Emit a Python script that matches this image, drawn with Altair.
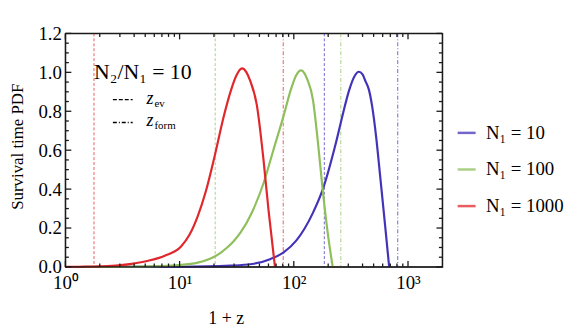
import math
import altair as alt
import pandas as pd

# ---- data ----
series_names = ["N₁ = 10", "N₁ = 100", "N₁ = 1000"]
series_colors = ["#4333b9", "#8fbf5d", "#e0282c"]

blue_x = [3.0, 10.0, 28.0, 43.0, 62.0, 81.5, 105.0, 147.0, 179.0, 233.0, 270.0, 304.0, 340.0, 371.0, 400.0, 424.0, 455.0, 484.0, 528.0, 571.0, 631.0, 684.0]
blue_y = [0.0, 0.001, 0.007, 0.015, 0.04, 0.075, 0.135, 0.278, 0.397, 0.634, 0.79, 0.905, 0.98, 1.003, 0.99, 0.955, 0.91, 0.83, 0.66, 0.464, 0.21, 0.0]

green_x = [1.5, 3.57, 6.5, 9.7, 14.4, 17.0, 20.1, 23.0, 26.1, 30.0, 34.1, 43.0, 54.3, 66.2, 80.8, 95.3, 105.0, 116.0, 124.0, 131.0, 147.0, 162.0, 179.0, 198.0, 219.0]
green_y = [0.0, 0.001, 0.004, 0.009, 0.022, 0.034, 0.052, 0.074, 0.10, 0.135, 0.176, 0.28, 0.43, 0.60, 0.77, 0.92, 0.985, 1.01, 0.995, 0.965, 0.86, 0.65, 0.397, 0.176, 0.0]

red_x = [1.0, 1.3, 1.97, 2.93, 3.79, 5.32, 7.42, 10.3, 12.2, 14.4, 17.0, 20.1, 24.5, 27.9, 31.5, 35.2, 38.5, 41.3, 47.5, 54.3, 60.0, 68.4]
red_y = [0.0, 0.001, 0.003, 0.008, 0.016, 0.032, 0.058, 0.105, 0.165, 0.26, 0.39, 0.56, 0.78, 0.9, 0.985, 1.02, 1.0, 0.96, 0.83, 0.55, 0.295, 0.0]

z_ev = [185.0, 20.5, 1.78]      # blue, green, red
z_form = [813.0, 258.0, 80.8]   # blue, green, red

x_tick_values = [1, 10, 100, 1000]
x_tick_labels = ["10⁰", "10¹", "10²", "10³"]
x_minor_ticks = [m * d for d in (1, 10, 100, 1000) for m in range(2, 10) if m * d < 2000]
y_major_ticks = [0.0, 0.2, 0.4, 0.6, 0.8, 1.0, 1.2]
y_minor_ticks = [round(0.05 * i, 2) for i in range(25) if i % 4 != 0]

ratio_label = "N₂/N₁ = 10"
ev_label = ["z", "ev"]
form_label = ["z", "form"]

# ---- tables ----
curves = pd.concat([
    pd.DataFrame({"x": blue_x, "y": blue_y, "series": series_names[0], "order": 0}),
    pd.DataFrame({"x": green_x, "y": green_y, "series": series_names[1], "order": 1}),
    pd.DataFrame({"x": red_x, "y": red_y, "series": series_names[2], "order": 2}),
])
ev_df = pd.DataFrame({"x": z_ev, "series": series_names})
form_df = pd.DataFrame({"x": z_form, "series": series_names})

W, H = 381, 236
FONT = "Liberation Serif"
XMIN, XMAX, YMIN, YMAX = 1.0, 2000.0, 0.0, 1.2
FRAME = "#1a1a1a"

xscale = alt.Scale(type="log", domain=[XMIN, XMAX], nice=False)
yscale = alt.Scale(domain=[YMIN, YMAX], nice=False)
cscale = alt.Scale(domain=series_names, range=series_colors)

label_expr = " : ".join(
    f"datum.value == {v} ? '{l}'" for v, l in zip(x_tick_values, x_tick_labels)
) + " : ''"

common_axis = dict(grid=False, ticks=False, domain=False, labelOverlap=False,
                   labelFont=FONT, labelColor="black", labelFontSize=19,
                   titleFont=FONT, titleColor="black", titleFontWeight="normal")

xaxis = alt.Axis(values=x_tick_values, tickCount=len(x_tick_values), labelExpr=label_expr,
                 labelFlush=False, labelPadding=7,
                 title="1 + z", titleFontSize=18, titleX=162, titleY=57,
                 titleBaseline="alphabetic", **common_axis)
yaxis = alt.Axis(values=y_major_ticks, tickCount=len(y_major_ticks), format=".1f",
                 labelFlush=False, labelPadding=4,
                 title="Survival time PDF", titleFontSize=17, titleX=-48, titleY=114,
                 titleAngle=-90, titleBaseline="middle", titleAlign="center", **common_axis)

legend = alt.Legend(title=None, orient="none", legendX=395, legendY=90,
                    symbolType="stroke", symbolSize=330, symbolStrokeWidth=2.5,
                    labelFont=FONT, labelFontSize=19, labelColor="black",
                    labelOffset=9, rowPadding=16, padding=0)

lines = alt.Chart(curves).mark_line(strokeWidth=2.2, interpolate="monotone").encode(
    x=alt.X("x:Q", scale=xscale, axis=xaxis),
    y=alt.Y("y:Q", scale=yscale, axis=yaxis),
    color=alt.Color("series:N", scale=cscale, sort=series_names, legend=legend),
    order="order:Q",
    detail="series:N",
)

ev_rules = alt.Chart(ev_df).mark_rule(strokeWidth=1, strokeDash=[3, 2], opacity=0.75).encode(
    x=alt.X("x:Q", scale=xscale),
    color=alt.Color("series:N", scale=cscale, sort=series_names, legend=legend),
)
form_rules = alt.Chart(form_df).mark_rule(strokeWidth=1, strokeDash=[4, 2, 1, 2], opacity=0.75).encode(
    x=alt.X("x:Q", scale=xscale),
    color=alt.Color("series:N", scale=cscale, sort=series_names, legend=legend),
)

# inward tick marks: lengths converted from pixels to data units
def ylen(px):
    return (YMAX - YMIN) * px / H

def xfac(px):
    return 10 ** (math.log10(XMAX / XMIN) * px / W)

xt = pd.DataFrame({"tx": x_tick_values + x_minor_ticks,
                   "len": [ylen(6)] * len(x_tick_values) + [ylen(3.5)] * len(x_minor_ticks)})
xt["b0"] = YMIN
xt["b1"] = YMIN + xt["len"]
xt["t0"] = YMAX
xt["t1"] = YMAX - xt["len"]

yt = pd.DataFrame({"ty": y_major_ticks + y_minor_ticks,
                   "fac": [xfac(6)] * len(y_major_ticks) + [xfac(3.5)] * len(y_minor_ticks)})
yt["l0"] = XMIN
yt["l1"] = XMIN * yt["fac"]
yt["r0"] = XMAX
yt["r1"] = XMAX / yt["fac"]

tick_style = dict(color=FRAME, strokeWidth=1.3)
xt_bottom = alt.Chart(xt).mark_rule(**tick_style).encode(
    x=alt.X("tx:Q", scale=xscale), y=alt.Y("b0:Q", scale=yscale), y2="b1:Q")
xt_top = alt.Chart(xt).mark_rule(**tick_style).encode(
    x=alt.X("tx:Q", scale=xscale), y=alt.Y("t0:Q", scale=yscale), y2="t1:Q")
yt_left = alt.Chart(yt).mark_rule(**tick_style).encode(
    y=alt.Y("ty:Q", scale=yscale), x=alt.X("l0:Q", scale=xscale), x2="l1:Q")
yt_right = alt.Chart(yt).mark_rule(**tick_style).encode(
    y=alt.Y("ty:Q", scale=yscale), x=alt.X("r0:Q", scale=xscale), x2="r1:Q")

# plot frame drawn on the domain edges
frame_x = pd.DataFrame({"xe": [XMIN, XMAX]})
frame_y = pd.DataFrame({"ye": [YMIN, YMAX]})
frame_v = alt.Chart(frame_x).mark_rule(**tick_style).encode(x=alt.X("xe:Q", scale=xscale))
frame_h = alt.Chart(frame_y).mark_rule(**tick_style).encode(y=alt.Y("ye:Q", scale=yscale))

def text_layer(t, x, y, size, style="normal"):
    return alt.Chart(pd.DataFrame({"t": [t]})).mark_text(
        font=FONT, fontSize=size, fontStyle=style, align="left",
        baseline="alphabetic", color="black").encode(
        text="t:N", x=alt.value(x), y=alt.value(y))

one = pd.DataFrame({"t": [0]})
dash_sample = alt.Chart(one).mark_rule(color="black", strokeWidth=1.3, strokeDash=[4, 2]).encode(
    x=alt.value(48), x2=alt.value(68), y=alt.value(67))
dashdot_sample = alt.Chart(one).mark_rule(color="black", strokeWidth=1.3, strokeDash=[4, 2, 1, 2]).encode(
    x=alt.value(48), x2=alt.value(68), y=alt.value(90))

inner = [text_layer(ratio_label, 29, 46, 22),
         dash_sample, dashdot_sample,
         text_layer(ev_label[0], 82, 71, 18, "italic"), text_layer(ev_label[1], 90, 74, 11),
         text_layer(form_label[0], 82, 94, 18, "italic"), text_layer(form_label[1], 90, 97, 11)]

chart = alt.layer(
    ev_rules, form_rules, lines, xt_bottom, xt_top, yt_left, yt_right, frame_v, frame_h, *inner
).properties(
    width=W, height=H,
    padding={"left": 58, "top": 24, "right": 132, "bottom": 60},
    autosize="none",
).configure_view(stroke=FRAME, strokeWidth=1.3)

chart.save("out.html", embed_options={"renderer": "svg", "actions": False})
